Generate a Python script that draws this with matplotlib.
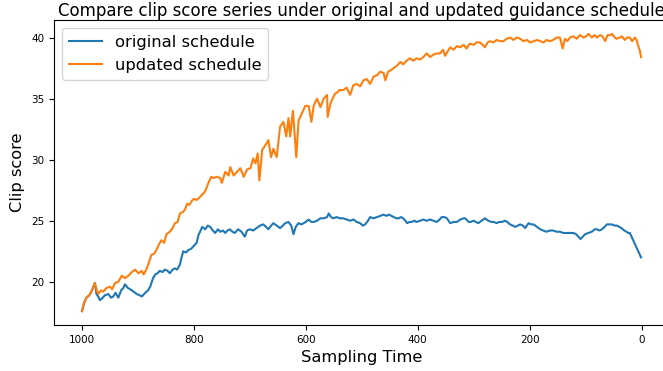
import matplotlib
matplotlib.use("Agg")
import matplotlib.pyplot as plt

# sampling time steps and clip scores
t_updated = [1000, 996, 992, 987, 983, 977, 974, 971, 966, 962, 956, 950, 946, 941, 935,
             929, 923, 917, 911, 905, 899, 893, 890, 885, 881, 876, 871, 867, 862, 858,
             853, 849, 843, 838, 834, 829, 825, 820, 816, 812, 808, 804, 800, 795, 790,
             786, 780, 774, 769, 765, 759, 753, 750, 744, 738, 735, 729, 723, 717, 711,
             705, 699, 694, 690, 686, 683, 678, 672, 667, 662, 658, 652, 646, 640, 635,
             631, 628, 623, 617, 613, 607, 601, 595, 590, 586, 580, 574, 568, 562, 561,
             556, 553, 548, 544, 540, 533, 527, 521, 515, 509, 503, 497, 491, 485, 479,
             473, 467, 461, 458, 453, 449, 443, 437, 431, 426, 420, 414, 408, 402, 396,
             390, 384, 378, 372, 366, 360, 355, 351, 346, 342, 336, 330, 324, 318, 313,
             307, 300, 295, 289, 284, 280, 275, 271, 265, 259, 253, 247, 241, 235, 229,
             223, 217, 211, 205, 199, 193, 187, 181, 175, 170, 164, 158, 152, 146, 141,
             137, 133, 128, 122, 116, 110, 104, 99, 95, 89, 84, 80, 74, 70, 65,
             61, 56, 53, 48, 44, 39, 35, 30, 26, 21, 17, 12, 9, 6, 3,
             1]
updated = [17.6, 18.3, 18.7, 18.9, 19.2, 19.9, 19.4, 19.0, 19.3, 19.2, 19.5, 19.6, 19.4, 19.9, 20.0,
           20.5, 20.3, 20.5, 20.8, 21.0, 20.7, 20.9, 20.6, 21.0, 21.5, 22.2, 22.3, 22.6, 23.1, 23.4,
           23.2, 23.9, 24.1, 24.4, 24.8, 24.9, 25.6, 25.7, 25.9, 26.4, 26.3, 26.6, 26.8, 26.7, 26.9,
           27.1, 27.4, 28.1, 28.6, 28.5, 28.6, 28.5, 28.1, 29.0, 28.7, 29.4, 28.7, 29.0, 29.3, 28.6,
           29.2, 29.3, 30.1, 29.7, 30.5, 28.3, 30.8, 31.2, 31.6, 30.2, 30.9, 30.2, 32.7, 33.1, 31.9,
           33.4, 31.9, 34.0, 30.2, 33.2, 33.8, 34.4, 34.4, 33.1, 34.4, 35.0, 34.3, 35.0, 35.3, 33.5,
           34.6, 34.9, 35.4, 35.5, 35.7, 35.7, 35.9, 35.3, 36.1, 36.2, 36.0, 36.5, 36.6, 36.2, 36.8,
           36.9, 37.2, 37.1, 36.5, 37.2, 37.3, 37.5, 37.7, 38.0, 37.8, 38.1, 38.3, 38.1, 38.3, 38.2,
           38.4, 38.7, 38.4, 38.6, 38.7, 38.7, 39.0, 38.5, 38.9, 39.2, 39.0, 39.3, 39.2, 39.4, 39.1,
           39.5, 39.4, 39.6, 39.6, 39.4, 39.2, 39.6, 39.7, 39.6, 39.8, 39.7, 39.7, 39.9, 40.0, 39.8,
           40.0, 39.9, 39.7, 39.8, 39.6, 39.7, 39.8, 39.7, 39.6, 39.8, 39.7, 39.8, 40.0, 40.0, 39.1,
           39.9, 39.7, 40.0, 40.1, 39.9, 40.2, 40.0, 40.1, 40.3, 40.0, 40.2, 40.0, 40.2, 40.1, 39.7,
           40.2, 40.2, 40.3, 40.0, 39.9, 40.0, 40.1, 39.8, 40.0, 40.0, 39.7, 40.0, 39.8, 39.3, 38.9,
           38.4]

t_original = [1000, 996, 992, 987, 983, 977, 974, 971, 968, 965, 959, 953, 948, 944, 940,
              935, 930, 926, 923, 918, 914, 908, 902, 897, 893, 887, 882, 878, 873, 869,
              865, 861, 856, 852, 847, 843, 838, 834, 830, 825, 822, 819, 814, 810, 805,
              801, 795, 792, 789, 785, 780, 775, 771, 766, 762, 757, 753, 748, 744, 740,
              736, 731, 727, 721, 715, 709, 705, 700, 694, 688, 682, 676, 671, 667, 662,
              658, 652, 646, 641, 637, 631, 626, 622, 618, 613, 608, 604, 600, 595, 590,
              586, 580, 574, 568, 562, 559, 555, 551, 545, 539, 533, 527, 521, 515, 509,
              503, 498, 494, 489, 485, 479, 473, 467, 461, 456, 452, 447, 443, 438, 434,
              430, 426, 422, 419, 415, 411, 406, 402, 396, 390, 384, 378, 372, 366, 361,
              357, 352, 348, 342, 336, 330, 324, 318, 315, 309, 306, 300, 296, 292, 286,
              280, 274, 268, 264, 259, 255, 250, 244, 240, 235, 230, 226, 221, 217, 212,
              208, 202, 197, 193, 187, 181, 176, 170, 164, 158, 152, 146, 140, 134, 128,
              122, 117, 113, 109, 105, 101, 95, 89, 84, 80, 75, 71, 66, 62, 57,
              53, 48, 44, 40, 36, 31, 27, 24, 21, 18, 15, 12, 9, 5, 1]
original = [17.6, 18.3, 18.7, 18.9, 19.2, 19.9, 19.0, 18.8, 18.5, 18.6, 18.9, 19.0, 18.7, 18.8, 19.1,
            18.7, 19.3, 19.5, 19.8, 19.5, 19.4, 19.2, 19.0, 18.9, 18.8, 19.1, 19.3, 19.6, 20.3, 20.6,
            20.7, 20.9, 20.8, 21.0, 20.9, 20.7, 21.0, 21.1, 21.0, 21.4, 22.0, 22.5, 22.4, 22.6, 22.7,
            22.9, 23.2, 23.8, 24.1, 24.5, 24.3, 24.6, 24.5, 24.2, 24.0, 24.3, 24.1, 24.2, 24.0, 24.2,
            24.3, 24.1, 24.0, 24.3, 24.1, 23.7, 24.2, 24.3, 24.2, 24.4, 24.6, 24.7, 24.5, 24.3, 24.6,
            24.8, 24.6, 24.4, 24.6, 24.8, 24.9, 24.6, 23.9, 24.5, 24.8, 24.7, 24.8, 24.9, 25.1, 24.9,
            24.9, 25.0, 25.2, 25.2, 25.3, 25.6, 25.3, 25.2, 25.3, 25.2, 25.2, 25.1, 25.0, 25.1, 24.9,
            24.8, 24.6, 24.7, 25.0, 25.3, 25.2, 25.3, 25.4, 25.5, 25.4, 25.5, 25.4, 25.3, 25.2, 25.2,
            25.3, 25.2, 25.0, 24.8, 24.9, 24.9, 25.0, 24.9, 25.0, 25.1, 25.0, 25.1, 25.0, 24.9, 25.1,
            25.3, 25.3, 25.2, 24.8, 24.9, 24.9, 25.1, 25.2, 25.2, 24.9, 24.9, 25.0, 24.9, 24.8, 25.0,
            25.2, 25.0, 24.9, 24.9, 24.8, 24.9, 24.9, 25.0, 24.9, 24.7, 24.6, 24.5, 24.6, 24.7, 24.6,
            24.4, 24.8, 24.7, 24.7, 24.5, 24.3, 24.2, 24.1, 24.2, 24.2, 24.1, 24.1, 24.0, 24.0, 24.0,
            24.0, 23.9, 23.7, 23.5, 23.7, 23.9, 24.0, 24.1, 24.3, 24.3, 24.2, 24.3, 24.5, 24.7, 24.7,
            24.7, 24.6, 24.6, 24.5, 24.4, 24.2, 24.1, 24.0, 24.0, 23.7, 23.4, 23.1, 22.8, 22.4, 22.0]

fig = plt.figure(figsize=(6.63, 3.71), dpi=100)
ax = fig.add_axes([54 / 663, 46 / 371, 615 / 663, 305 / 371])

ax.plot(t_original, original, label="original schedule")
ax.plot(t_updated, updated, label="updated schedule")

ax.invert_xaxis()
ax.set_title("Compare clip score series under original and updated guidance schedule",
             fontsize=12, pad=2.5)
ax.set_xlabel("Sampling Time", fontsize=11.7)
ax.set_ylabel("Clip score", fontsize=11.7)
ax.tick_params(labelsize=7.5)
ax.legend(loc="upper left", fontsize=11.8)

fig.savefig("out.png", dpi=100)
